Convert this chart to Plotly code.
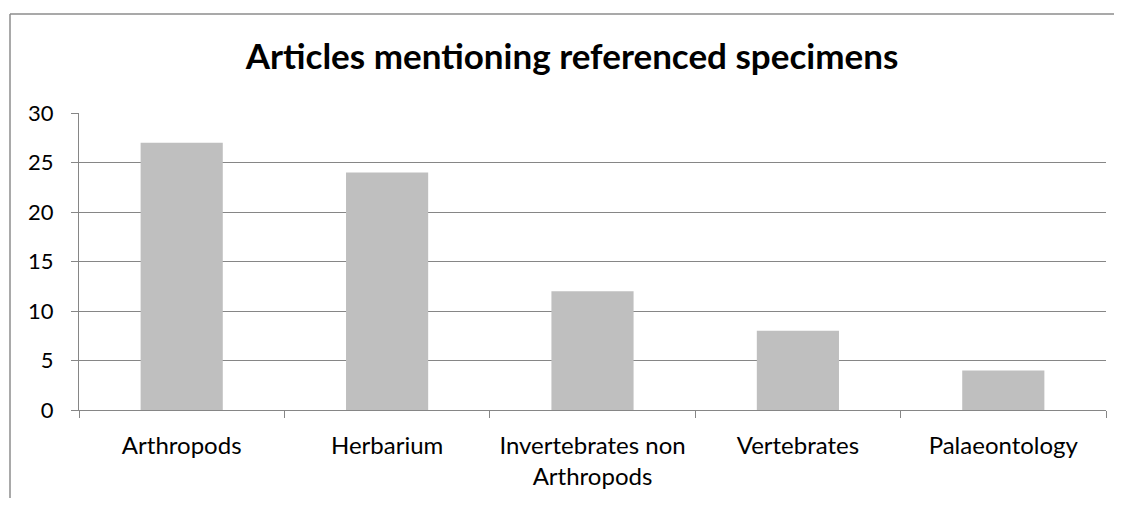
import plotly.graph_objects as go

categories = ["Arthropods", "Herbarium", "Invertebrates non<br>Arthropods", "Vertebrates", "Palaeontology"]
values = [27, 24, 12, 8, 4]
y_ticks = [0, 5, 10, 15, 20, 25, 30]
title_text = "Articles mentioning referenced specimens"

# page body has an 8px margin, so the figure is sized/placed accordingly
OFF = 8
W, H = 1122 - 2 * OFF, 506 - 2 * OFF
ML, MR, MT, MB = 79 - OFF, 8, 113 - OFF, 85
pw = W - ML - MR
ph = H - MT - MB

def px_x(px):
    return (px - OFF - ML) / pw

def px_y(py):
    return (H - MB - (py - OFF)) / ph

fig = go.Figure(go.Bar(x=categories, y=values, marker=dict(color="#BFBFBF", line=dict(width=0))))

grid = "#868686"
fig.update_layout(
    width=W, height=H,
    margin=dict(l=ML, r=MR, t=MT, b=MB),
    paper_bgcolor="white", plot_bgcolor="white",
    bargap=0.6,
    showlegend=False,
    font=dict(family="Lato, sans-serif", size=22, color="#000000"),
    title=dict(text="<b>" + title_text + "</b>", x=(572 - OFF) / W, xanchor="center",
               y=1 - (57 - OFF) / H, yanchor="middle",
               font=dict(family="Lato, sans-serif", size=35, color="#000000")),
    xaxis=dict(type="category", showgrid=False, showline=True, linecolor=grid, linewidth=1,
               ticks="outside", tickson="boundaries", ticklen=7, tickcolor=grid, tickwidth=1,
               ticklabelstandoff=14, tickfont=dict(size=24, color="#000000")),
    yaxis=dict(range=[0, 30], tickvals=y_ticks, showgrid=True, gridcolor=grid, gridwidth=1,
               showline=True, linecolor=grid, linewidth=1, ticks="outside", ticklen=7,
               tickcolor=grid, zeroline=False, ticklabelstandoff=13,
               tickfont=dict(size=22, color="#000000")),
    shapes=[
        dict(type="line", xref="paper", yref="paper", x0=px_x(10), x1=px_x(10),
             y0=px_y(H + 40), y1=px_y(13), line=dict(color="#8C8C8C", width=1.5)),
        dict(type="line", xref="paper", yref="paper", x0=px_x(10), x1=px_x(W + 40),
             y0=px_y(13), y1=px_y(13), line=dict(color="#8C8C8C", width=1.5)),
    ],
)

fig.write_html("out.html")
